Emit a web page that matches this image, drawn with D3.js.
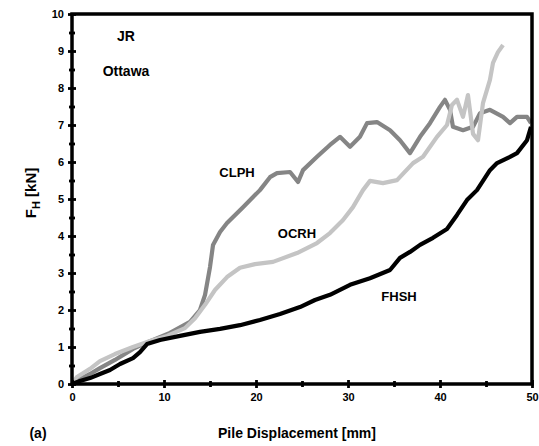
<!DOCTYPE html>
<html>
<head>
<meta charset="utf-8">
<script src="https://cdn.jsdelivr.net/npm/d3@7"></script>
<style>
  body { margin: 0; background: #fff; }
  text { font-family: Arial, "Liberation Sans", sans-serif; font-weight: bold; }
</style>
</head>
<body>
<div id="chart"></div>
<script>
// displacement [mm] / force [kN]
var clphX = [0, 0.87, 1.96, 3.04, 4.67, 6.63, 8.48, 10.65, 12.83, 13.91, 14.46, 15.0, 15.33, 16.09, 16.85, 18.59, 20.43, 21.52, 22.28, 23.7, 24.57, 25.11, 26.63, 28.04, 29.13, 30.22, 31.3, 32.07, 33.15, 34.57, 35.65, 36.74, 37.83, 38.91, 40.0, 40.54, 41.09, 41.41, 42.5, 43.59, 44.35, 45.43, 46.85, 47.61, 48.37, 49.46, 49.89];
var clphY = [0, 0.14, 0.27, 0.43, 0.65, 0.95, 1.16, 1.38, 1.68, 2.0, 2.41, 3.16, 3.76, 4.11, 4.35, 4.78, 5.24, 5.59, 5.7, 5.73, 5.46, 5.78, 6.14, 6.46, 6.68, 6.41, 6.68, 7.05, 7.08, 6.86, 6.59, 6.24, 6.68, 7.05, 7.49, 7.68, 7.41, 6.95, 6.86, 6.95, 7.32, 7.41, 7.22, 7.05, 7.22, 7.22, 7.05];

var ocrhX = [0, 0.54, 1.96, 3.04, 4.67, 6.63, 8.48, 10.33, 12.28, 13.37, 14.46, 15.54, 16.85, 18.26, 19.89, 21.85, 24.46, 26.63, 28.04, 29.46, 30.54, 31.63, 32.39, 33.8, 35.33, 37.07, 38.15, 39.67, 40.76, 41.3, 41.85, 42.5, 43.04, 43.59, 44.13, 44.67, 45.43, 45.76, 46.3, 46.85];
var ocrhY = [0, 0.19, 0.41, 0.62, 0.81, 1.0, 1.16, 1.3, 1.51, 1.78, 2.14, 2.54, 2.89, 3.14, 3.24, 3.3, 3.54, 3.81, 4.08, 4.43, 4.78, 5.24, 5.49, 5.43, 5.51, 5.97, 6.14, 6.68, 7.0, 7.54, 7.68, 7.22, 7.81, 6.76, 6.59, 7.59, 8.22, 8.68, 8.97, 9.16];

var fhshX = [0, 0.87, 1.96, 3.04, 4.13, 5.22, 6.63, 7.39, 8.15, 9.57, 11.74, 13.91, 16.09, 18.26, 20.43, 22.61, 24.78, 26.41, 28.04, 30.22, 32.39, 34.57, 35.65, 36.74, 37.83, 39.24, 40.76, 41.85, 42.93, 44.02, 45.43, 46.2, 47.61, 48.37, 49.46, 49.89];
var fhshY = [0, 0.08, 0.16, 0.27, 0.38, 0.54, 0.7, 0.86, 1.08, 1.19, 1.3, 1.41, 1.49, 1.59, 1.73, 1.89, 2.08, 2.27, 2.41, 2.68, 2.86, 3.08, 3.41, 3.57, 3.76, 3.95, 4.19, 4.57, 4.97, 5.24, 5.78, 5.97, 6.14, 6.24, 6.59, 6.95];

var seriesNames = ["CLPH", "OCRH", "FHSH"];
var seriesColors = ["#858585", "#c4c4c4", "#000000"];
var xTicks = [0, 10, 20, 30, 40, 50];
var yTicks = [0, 1, 2, 3, 4, 5, 6, 7, 8, 9, 10];

var totalW = 539, totalH = 446;
var margin = { top: 14, right: 7, bottom: 62, left: 72 },
    width = totalW - margin.left - margin.right,
    height = totalH - margin.top - margin.bottom;

var svg = d3.select("#chart")
    .append("svg")
    .attr("width", totalW)
    .attr("height", totalH);

var g = svg.append("g")
    .attr("transform", "translate(" + margin.left + "," + margin.top + ")");

var x = d3.scaleLinear().domain([0, 50]).range([0, width]);
var y = d3.scaleLinear().domain([0, 10]).range([height, 0]);

function zip(xs, ys) {
    return xs.map(function(v, i) { return [v, ys[i]]; });
}
var series = [zip(clphX, clphY), zip(ocrhX, ocrhY), zip(fhshX, fhshY)];

var line = d3.line()
    .x(function(d) { return x(d[0]); })
    .y(function(d) { return y(d[1]); });

g.selectAll(".curve")
    .data(series)
    .enter()
    .append("path")
    .attr("class", "curve")
    .attr("d", line)
    .style("fill", "none")
    .style("stroke", function(d, i) { return seriesColors[i]; })
    .style("stroke-width", 4.2)
    .style("stroke-linejoin", "round");

// axes: ticks cross the axis line
var minorX = d3.range(5, 50, 10);
var minorY = d3.range(0.5, 10, 1);

g.append("g")
    .attr("transform", "translate(0," + height + ")")
    .call(d3.axisBottom(x).tickValues(xTicks).tickSize(4).tickPadding(5));
g.append("g")
    .attr("transform", "translate(0," + height + ")")
    .call(d3.axisBottom(x).tickValues(xTicks).tickSize(-4).tickFormat(""));
g.append("g")
    .attr("transform", "translate(0," + height + ")")
    .call(d3.axisBottom(x).tickValues(minorX).tickSize(3).tickFormat(""));
g.append("g")
    .attr("transform", "translate(0," + height + ")")
    .call(d3.axisBottom(x).tickValues(minorX).tickSize(-3).tickFormat(""));

g.append("g")
    .call(d3.axisLeft(y).tickValues(yTicks).tickSize(4).tickPadding(4));
g.append("g")
    .call(d3.axisLeft(y).tickValues(yTicks).tickSize(-4).tickFormat(""));
g.append("g")
    .call(d3.axisLeft(y).tickValues(minorY).tickSize(3).tickFormat(""));
g.append("g")
    .call(d3.axisLeft(y).tickValues(minorY).tickSize(-3).tickFormat(""));

g.selectAll(".domain").remove();
g.selectAll(".tick line").style("stroke", "#000").style("stroke-width", 2.8);
g.selectAll(".tick text").style("font-size", "11px").style("fill", "#000");

// frame
g.append("rect")
    .attr("x", 0)
    .attr("y", 0)
    .attr("width", width)
    .attr("height", height)
    .style("fill", "none")
    .style("stroke", "#000")
    .style("stroke-width", 3.5);

// axis titles
svg.append("text")
    .attr("x", margin.left + width / 2 - 5)
    .attr("y", 438)
    .attr("text-anchor", "middle")
    .style("font-size", "14px")
    .text("Pile Displacement [mm]");

var yTitle = svg.append("text")
    .attr("transform", "translate(36," + (margin.top + height / 2 - 6) + ") rotate(-90)")
    .attr("text-anchor", "middle")
    .style("font-size", "15px");
yTitle.append("tspan").text("F");
yTitle.append("tspan").attr("dy", 4).style("font-size", "11px").text("H");
yTitle.append("tspan").attr("dy", -4).text(" [kN]");

svg.append("text")
    .attr("x", 38)
    .attr("y", 438)
    .attr("text-anchor", "middle")
    .style("font-size", "14px")
    .text("(a)");

// annotations
svg.append("text")
    .attr("x", 126)
    .attr("y", 41)
    .attr("text-anchor", "middle")
    .style("font-size", "14px")
    .text("JR");
svg.append("text")
    .attr("x", 126)
    .attr("y", 76)
    .attr("text-anchor", "middle")
    .style("font-size", "14px")
    .text("Ottawa");

var labelPos = [[237, 177], [297, 238], [399, 301]];
svg.selectAll(".lbl")
    .data(seriesNames)
    .enter()
    .append("text")
    .attr("class", "lbl")
    .attr("x", function(d, i) { return labelPos[i][0]; })
    .attr("y", function(d, i) { return labelPos[i][1]; })
    .attr("text-anchor", "middle")
    .style("font-size", "13px")
    .text(function(d) { return d; });
</script>
</body>
</html>
